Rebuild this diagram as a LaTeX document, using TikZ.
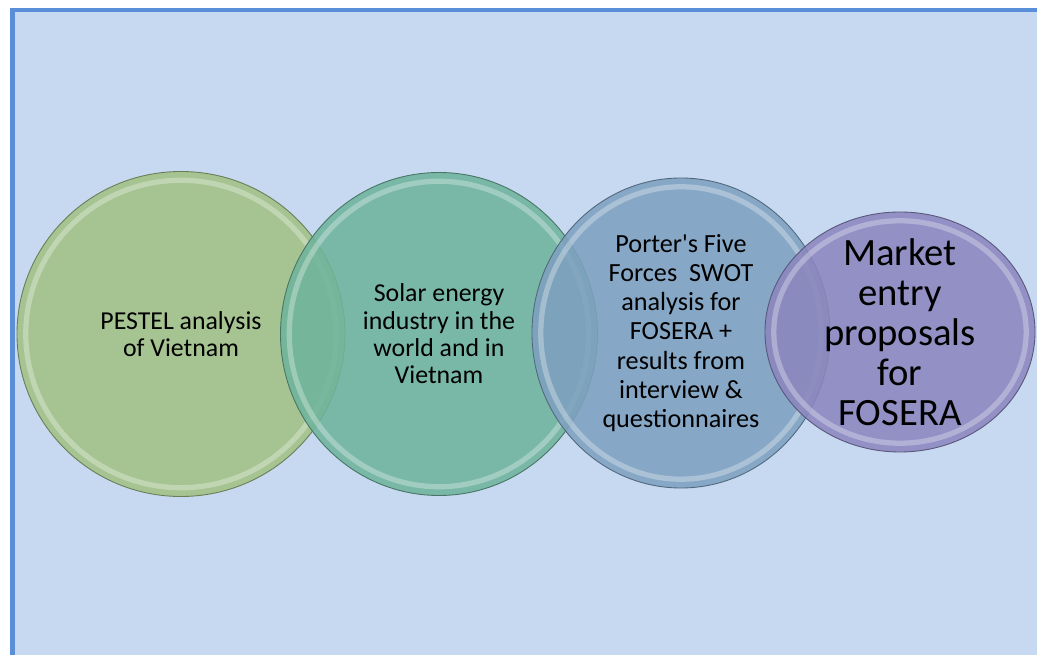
\documentclass[tikz,border=0pt]{standalone}
\usepackage{fontspec}
\setmainfont{Carlito}[Ligatures=TeXOff]
\usepackage{tikz}
\usetikzlibrary{shapes.geometric,calc}

\definecolor{bgblue}{HTML}{C6D9F0}
\definecolor{frameblue}{HTML}{5B8ED8}
\definecolor{cgreen}{HTML}{A2C086}
\definecolor{cteal}{HTML}{6FB49C}
\definecolor{cblue}{HTML}{7EA1C0}
\definecolor{cpurple}{HTML}{8B86BE}

\tikzset{
  bubble/.style={ellipse, draw=#1!65!black, fill=#1, fill opacity=0.88, text opacity=1,
    line width=0.5pt, align=center, inner sep=-8pt,
    path picture={
      \draw[white, opacity=0.3, line width=3pt]
        let \p1=(path picture bounding box.north east), \p2=(path picture bounding box.center)
        in (\p2) ellipse [x radius=\x1-\x2-5pt, y radius=\y1-\y2-5pt];
    }},
  smalltxt/.style={font=\fontsize{14.7}{15.6}\selectfont},
  bigtxt/.style={font=\fontsize{22}{22.8}\selectfont},
}

\begin{document}
\begin{tikzpicture}
      \useasboundingbox (0,0) rectangle (20.74,13.1);
      % Background
      \fill[bgblue] (0.25,0) rectangle (20.74,12.9);
      \draw[frameblue, line width=2.3pt] (0.25,0) -- (0.25,12.9) -- (20.74,12.9);

      % Define nodes
      \node[bubble=cgreen, smalltxt, minimum width=6.56cm, minimum height=6.5cm] (pestel) at (3.62,6.42)
        {PESTEL analysis\\of Vietnam};
      \node[bubble=cteal, smalltxt, minimum width=6.34cm, minimum height=6.46cm] (solar) at (8.78,6.42)
        {Solar energy\\industry in the\\world and in\\Vietnam};
      \node[bubble=cblue, font=\fontsize{14.9}{16.6}\selectfont, minimum width=5.96cm, minimum height=6.2cm] (porter) at (13.62,6.44)
        {Porter's Five\\Forces\ \ SWOT\\analysis for\\FOSERA +\\results from\\interview \&\\questionnaires};
      \node[bubble=cpurple, bigtxt, minimum width=5.4cm, minimum height=4.8cm] (market) at (18.0,6.46)
        {Market\\entry\\proposals\\for\\FOSERA};
    \end{tikzpicture}
\end{document}
